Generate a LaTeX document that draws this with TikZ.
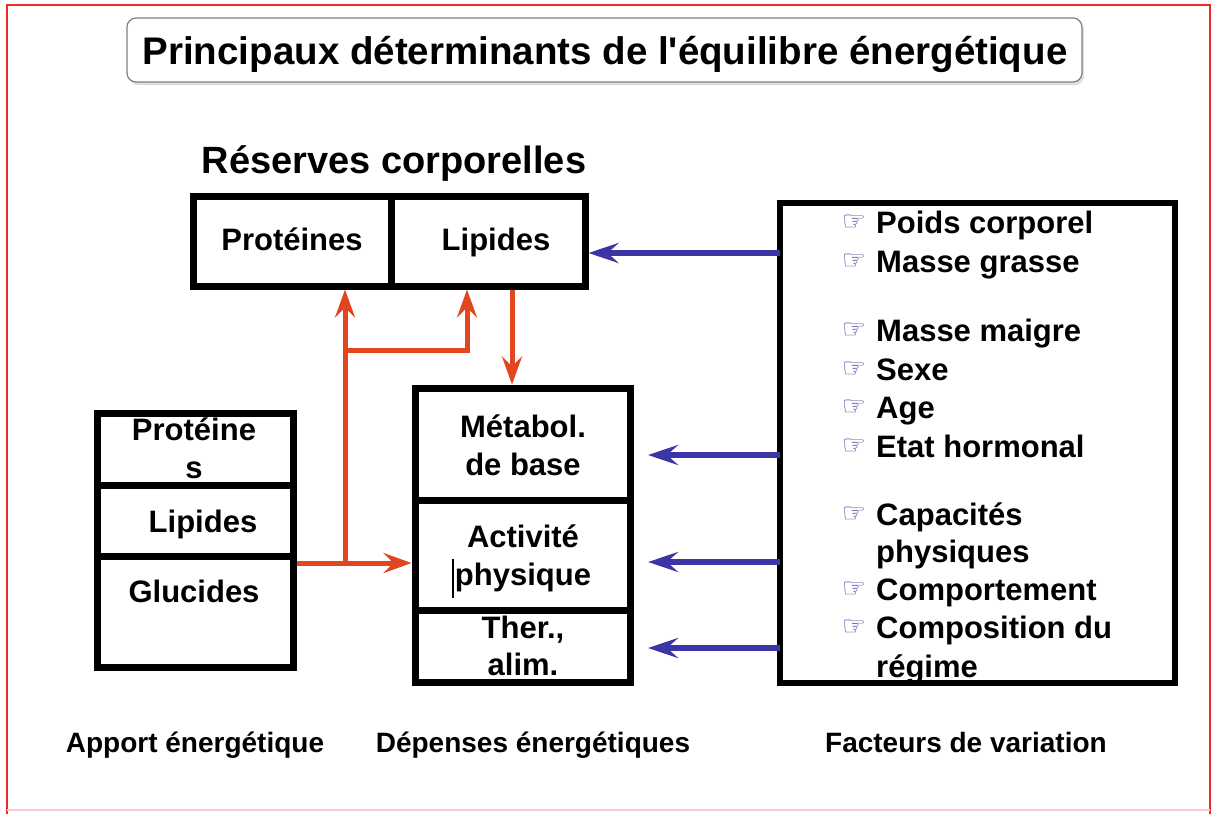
\documentclass[tikz,border=0pt]{standalone}
\usepackage{fontspec}
\setmainfont{Liberation Sans}
\newfontfamily\titlefont{Liberation Sans}[Ligatures=TeXOff]
\newfontfamily\symfont{DejaVu Sans}
\usetikzlibrary{arrows.meta,shadows}
\definecolor{framered}{HTML}{F02828}
\definecolor{arrred}{HTML}{E2461E}
\definecolor{arrblue}{HTML}{3B35A6}
\definecolor{bulletc}{HTML}{4E4A9E}
\tikzset{
  cell/.style={draw=black, line width=7pt, inner sep=0pt, outer sep=3.5pt, minimum width=#1},
  txt/.style={anchor=base, inner sep=0pt, font=\bfseries\fontsize{31}{31}\selectfont},
  item/.style={anchor=base west, inner sep=0pt, font=\bfseries\fontsize{31}{31}\selectfont},
  bul/.style={anchor=center, inner sep=0pt, text=bulletc, font=\symfont\fontsize{27}{27}\selectfont},
  lab/.style={anchor=base, inner sep=0pt, font=\bfseries\fontsize{28}{28}\selectfont},
  redarr/.style={draw=arrred, line width=5pt, -{Stealth[length=28pt,width=20pt,inset=10pt]}},
  bluearr/.style={draw=arrblue, line width=5.5pt, -{Stealth[length=30pt,width=20pt,inset=11pt]}}
}
\begin{document}
\begin{tikzpicture}[x=1pt,y=-1pt]
\useasboundingbox (0,0) rectangle (1219,814);
\fill[white] (0,0) rectangle (1219,814);
% frame
\draw[framered, line width=2.5pt] (7,814) -- (7,5) -- (1210,5) -- (1210,814);
\draw[framered!25, line width=2pt] (7,810) -- (1210,810);
% title
\node[draw=black!50, line width=1.2pt, rounded corners=9pt, fill=white, minimum width=955pt, minimum height=64pt, inner sep=0pt,
  drop shadow={shadow xshift=2pt, shadow yshift=-3pt, opacity=0.25}] (titlebox) at (604.5,50) {};
\node[anchor=base, inner sep=0pt, font=\titlefont\bfseries\fontsize{38.5}{38.5}\selectfont] (title) at (605,64) {Principaux déterminants de l'équilibre énergétique};
% reserves
\node[anchor=base, inner sep=0pt, font=\bfseries\fontsize{38}{38}\selectfont] (reslab) at (394,173) {Réserves corporelles};
\node[cell=198pt, minimum height=90pt] (prot1) at (292,241) {};
\node[cell=194pt, minimum height=90pt] (lip1) at (488,241) {};
\node[txt] (tprot1) at (292,250) {Protéines};
\node[txt] (tlip1) at (496,250) {Lipides};
% apport
\node[cell=196pt, minimum height=72pt] (ap1) at (195,449) {};
\node[cell=196pt, minimum height=71pt] (ap2) at (195,520.5) {};
\node[cell=196pt, minimum height=111pt] (ap3) at (195,611.5) {};
\node[txt] (tap1a) at (194,440) {Protéine};
\node[txt] (tap1b) at (194,478) {s};
\node[txt] (tap2) at (203,532) {Lipides};
\node[txt] (tap3) at (194,602) {Glucides};
% depenses
\node[cell=215pt, minimum height=112pt] (met) at (522.5,444) {};
\node[cell=215pt, minimum height=110pt] (act) at (522.5,555) {};
\node[cell=215pt, minimum height=72pt] (ther) at (522.5,646) {};
\node[txt] (tmet1) at (523,437) {Métabol.};
\node[txt] (tmet2) at (523,475) {de base};
\node[txt] (tact1) at (523,547) {Activité};
\node[txt] (tact2) at (523,585) {physique};
\draw[black, line width=1.5pt] (453,559) -- (453,598);
\node[txt] (tth1) at (523,638) {Ther.,};
\node[txt] (tth2) at (523,675) {alim.};
\draw[black, line width=7pt] (ther.south west) ++(3.5,-3.5) -- ++(215,0);
% facteurs
\node[item] (f1) at (876,233) {Poids corporel};
\node[item] (f2) at (876,272) {Masse grasse};
\node[item] (f3) at (876,341) {Masse maigre};
\node[item] (f4) at (876,380) {Sexe};
\node[item] (f5) at (876,418) {Age};
\node[item] (f6) at (876,457) {Etat hormonal};
\node[item] (f7) at (876,525) {Capacités};
\node[item] (f7b) at (876,562) {physiques};
\node[item] (f8) at (876,600) {Comportement};
\node[item] (f9) at (876,638) {Composition du};
\node[item] (f9b) at (876,677) {régime};
\foreach \n/\y in {b1/233,b2/272,b3/341,b4/380,b5/418,b6/457,b7/525,b8/600,b9/638}
  \node[bul] (\n) at (854,\y-10) {☞};
\node[draw=black, line width=6pt, inner sep=0pt, outer sep=0pt, minimum width=395pt, minimum height=480pt] (fac) at (977.5,443) {};
% red connectors
\coordinate (r0) at (ap3.east |- 0,563);
\coordinate (j1) at (345,563);
\coordinate (j2) at (345,350);
\coordinate (j3) at (467,350);
\coordinate (d0) at (512,286);
\draw[redarr] (r0) -- (act.west |- r0);
\draw[redarr] (j1) -- (j1 |- prot1.south);
\draw[redarr] (j2) -- (j3) -- (j3 |- lip1.south);
\draw[redarr] (d0 |- lip1.south) -- (d0 |- met.north);
% blue connectors
\coordinate (t0) at (780,253);
\coordinate (t1) at (648,455);
\coordinate (t2) at (648,562);
\coordinate (t3) at (648,648);
\draw[bluearr] (fac.west |- t0) -- (lip1.east |- t0);
\draw[bluearr] (fac.west |- t1) -- (t1);
\draw[bluearr] (fac.west |- t2) -- (t2);
\draw[bluearr] (fac.west |- t3) -- (t3);
% bottom labels
\node[lab] (l1) at (195,752) {Apport énergétique};
\node[lab] (l2) at (533,752) {Dépenses énergétiques};
\node[lab] (l3) at (966,752) {Facteurs de variation};
\end{tikzpicture}
\end{document}
